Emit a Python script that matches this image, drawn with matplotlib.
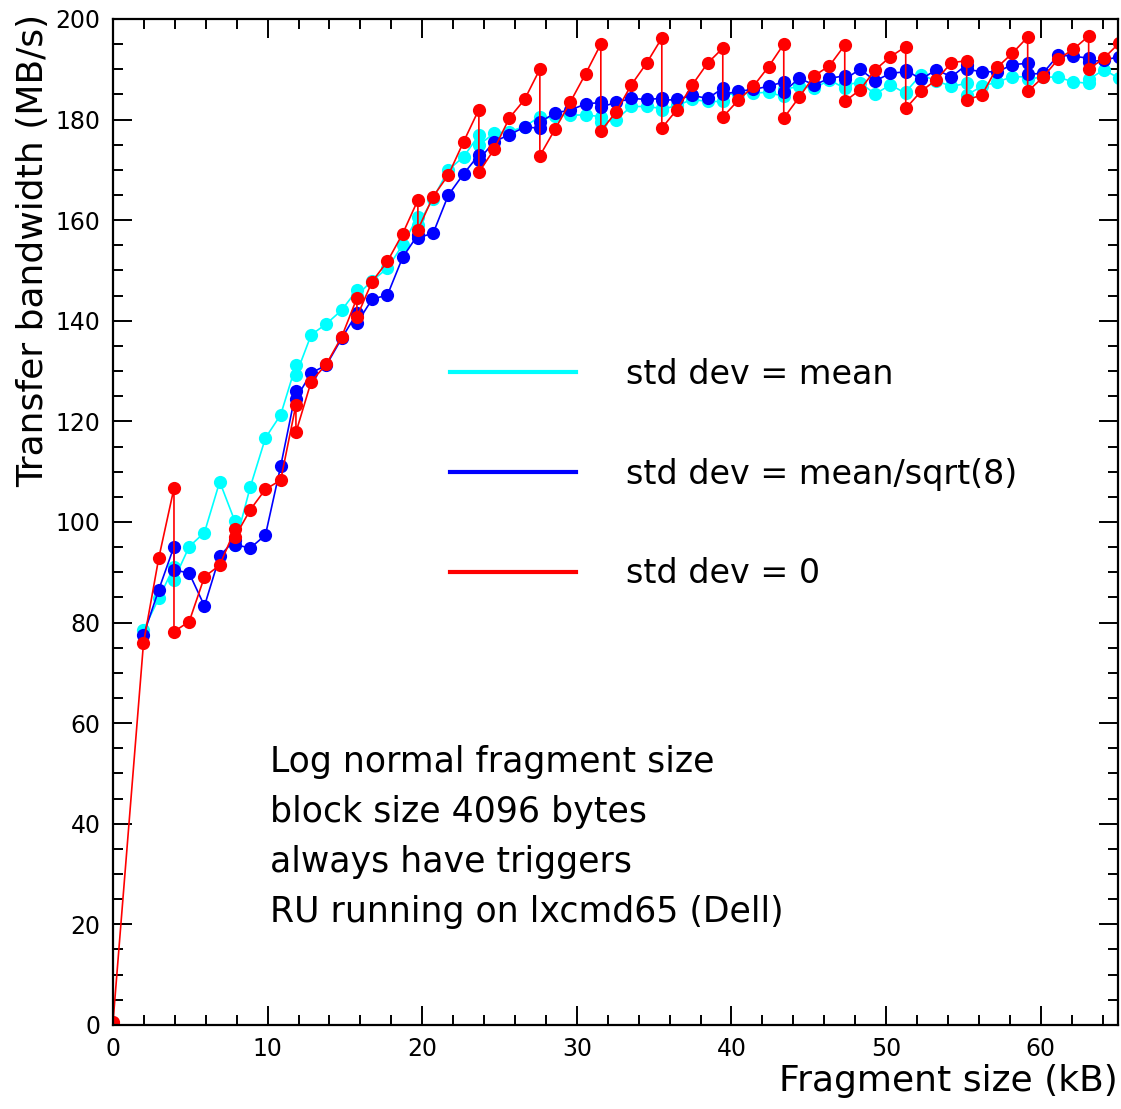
import numpy as np
import matplotlib.pyplot as plt
from matplotlib.lines import Line2D
from matplotlib.ticker import MultipleLocator

# sample index: one point per 1000 bytes, two points at every 4 kB block boundary
frag_idx = sorted(list(range(2, 67)) + list(range(4, 65, 4)))
red_idx = [0] + frag_idx
kb_per_idx = 0.986

# std dev = mean
bw_cyan = [78.5, 84.8, 91.1, 88.5, 95.1, 97.9, 108.0, 100.1, 95.4, 106.9,
           116.7, 121.3, 131.2, 129.2, 137.2, 139.4, 142.1, 146.1, 145.0, 148.0,
           150.4, 155.1, 160.7, 159.0, 164.3, 170.0, 172.6, 176.9, 174.9, 177.3,
           177.6, 178.6, 180.6, 180.0, 180.7, 180.9, 180.9, 180.6, 179.5, 180.0,
           182.6, 182.6, 182.2, 182.0, 182.8, 184.0, 183.6, 183.6, 185.0, 185.1,
           185.3, 185.4, 184.6, 186.0, 186.6, 186.2, 187.9, 186.2, 187.0, 187.3,
           185.1, 186.9, 185.2, 185.5, 188.9, 187.7, 186.6, 187.2, 184.9, 186.6,
           187.5, 188.5, 188.5, 188.0, 188.5, 188.4, 187.5, 187.2, 188.0, 189.9,
           188.2]

# std dev = mean/sqrt(8)
bw_blue = [77.5, 86.5, 95.1, 90.5, 89.8, 83.3, 93.2, 96.5, 95.5, 94.8,
           97.4, 111.1, 126.0, 124.5, 129.6, 131.2, 136.5, 141.5, 139.5, 144.3,
           145.1, 152.6, 157.1, 156.5, 157.4, 165.0, 169.2, 173.0, 172.0, 175.6,
           177.0, 178.5, 178.3, 179.5, 181.3, 181.9, 183.1, 183.4, 182.5, 183.4,
           184.2, 184.0, 184.2, 183.8, 184.0, 184.8, 184.2, 186.2, 185.0, 185.6,
           186.0, 186.6, 187.5, 185.5, 188.2, 186.9, 188.2, 188.7, 188.0, 190.0,
           187.7, 189.2, 189.5, 189.9, 188.0, 189.9, 188.5, 190.9, 190.0, 189.5,
           189.5, 190.9, 191.2, 189.0, 189.2, 192.8, 192.6, 192.2, 191.5, 191.8,
           192.5]

# std dev = 0
bw_red = [0.5,
          75.9, 92.8, 106.7, 78.2, 80.2, 89.1, 91.4, 98.5, 97.0, 102.4,
          106.5, 108.3, 123.3, 117.8, 127.9, 131.4, 136.8, 144.5, 140.8, 147.8,
          151.8, 157.3, 164.0, 158.1, 164.7, 169.0, 175.6, 182.0, 169.5, 174.1,
          180.3, 184.0, 190.0, 172.8, 178.1, 183.5, 189.1, 195.0, 177.7, 181.5,
          186.9, 191.2, 196.2, 178.3, 182.0, 186.9, 191.2, 194.2, 180.5, 183.8,
          186.6, 190.5, 195.0, 180.3, 184.4, 188.7, 190.7, 194.8, 183.6, 185.9,
          189.9, 192.5, 194.5, 182.2, 185.6, 187.9, 191.3, 191.7, 183.9, 184.9,
          190.4, 193.2, 196.4, 185.6, 188.4, 192.0, 194.0, 196.6, 190.0, 192.2,
          195.2]

labels = ["std dev = mean", "std dev = mean/sqrt(8)", "std dev = 0"]
colors = ["#00ffff", "#0000ff", "#ff0000"]
notes = ["Log normal fragment size", "block size 4096 bytes",
         "always have triggers", "RU running on lxcmd65 (Dell)"]

x_frag = np.array(frag_idx) * kb_per_idx
x_red = np.array(red_idx) * kb_per_idx

fig = plt.figure(figsize=(11.21, 11.09), dpi=100)
ax = fig.add_axes([0.1008, 0.0758, 0.8965, 0.9071])

for xs, ys, c in [(x_frag, bw_cyan, colors[0]), (x_frag, bw_blue, colors[1]),
                  (x_red, bw_red, colors[2])]:
    ax.plot(xs, ys, '-', color=c, linewidth=1.2, marker='o', markersize=9.5,
            markeredgewidth=0)

ax.set_xlim(0, 65)
ax.set_ylim(0, 200)
ax.xaxis.set_major_locator(MultipleLocator(10))
ax.xaxis.set_minor_locator(MultipleLocator(2))
ax.yaxis.set_major_locator(MultipleLocator(20))
ax.yaxis.set_minor_locator(MultipleLocator(5))
ax.tick_params(which='both', direction='in', top=True, right=True,
               width=1.4, labelsize=17)
ax.tick_params(which='major', length=14)
ax.tick_params(which='minor', length=7)
ax.tick_params(axis='y', pad=9)
ax.tick_params(axis='x', pad=9)
for sp in ax.spines.values():
    sp.set_linewidth(1.6)

ax.set_xlabel('Fragment size (kB)', fontsize=26, ha='right', x=1.0, labelpad=2)
ax.set_ylabel('Transfer bandwidth (MB/s)', fontsize=26, ha='right', y=1.005,
              labelpad=4)

handles = [Line2D([], [], color=c, linewidth=3) for c in colors]
ax.legend(handles, labels, loc='upper left', bbox_to_anchor=(0.335, 0.663),
          frameon=False, fontsize=24, handlelength=3.8, handletextpad=1.5,
          labelspacing=2.0, borderpad=0, borderaxespad=0)

for k, line in enumerate(notes):
    ax.text(0.156, 0.261 - 0.0497 * k, line, transform=ax.transAxes,
            fontsize=25, va='center', ha='left')

plt.savefig('out.png', dpi=100)
